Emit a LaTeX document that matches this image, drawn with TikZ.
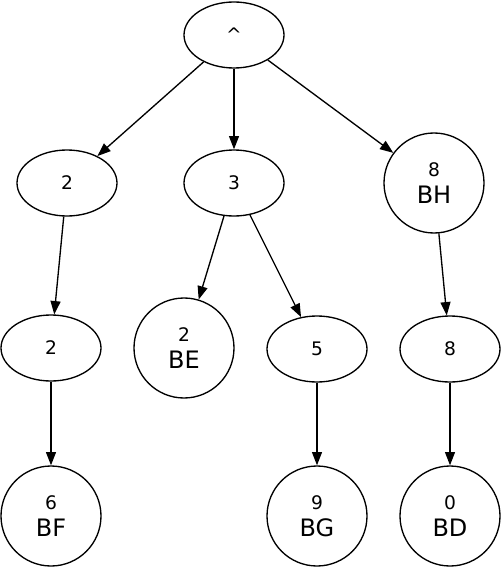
\documentclass[tikz,border=0pt]{standalone}
\usepackage{fontspec}
\setmainfont{DejaVu Sans}
\usetikzlibrary{shapes.geometric,arrows.meta}
\newcommand{\numf}{\fontsize{14}{16}\selectfont}
\newcommand{\namef}{\fontsize{18}{20}\selectfont}
\begin{document}
\begin{tikzpicture}[x=0.75pt, y=-0.75pt, line width=1pt,
  inner/.style={ellipse,draw,minimum width=75pt,minimum height=49.5pt,inner sep=0pt,font=\numf},
  leaf/.style={circle,draw,minimum size=75pt,inner sep=0pt,align=center},
  edge/.style={-{Triangle[length=10pt,width=7.5pt]}}]
  \useasboundingbox (0,0) rectangle (502,567);
  \node[inner] (root) at (234,35) {\textasciicircum};
  \node[inner] (n2) at (67,183) {2};  \node[inner] (n3) at (234,183) {3};
  \node[leaf] (bh) at (434,183) {\numf 8\\[6pt]\namef BH};
  \node[inner] (n2b) at (51,348) {2};
  \node[leaf] (be) at (184,348) {\numf 2\\[6pt]\namef BE};
  \node[inner] (n5) at (317,349) {5};  \node[inner] (n8) at (450,349) {8};
  \node[leaf] (bf) at (51,516) {\numf 6\\[6pt]\namef BF};
  \node[leaf] (bg) at (317,516) {\numf 9\\[6pt]\namef BG};
  \node[leaf] (bd) at (450,516) {\numf 0\\[6pt]\namef BD};
  \draw[edge] (root) -- (n2);  \draw[edge] (root) -- (n3);  \draw[edge] (root) -- (bh);
  \draw[edge] (n2) -- (n2b);  \draw[edge] (n2b) -- (bf);
  \draw[edge] (n3) -- (be);  \draw[edge] (n3) -- (n5);  \draw[edge] (n5) -- (bg);
  \draw[edge] (bh) -- (n8);  \draw[edge] (n8) -- (bd);
\end{tikzpicture}
\end{document}
